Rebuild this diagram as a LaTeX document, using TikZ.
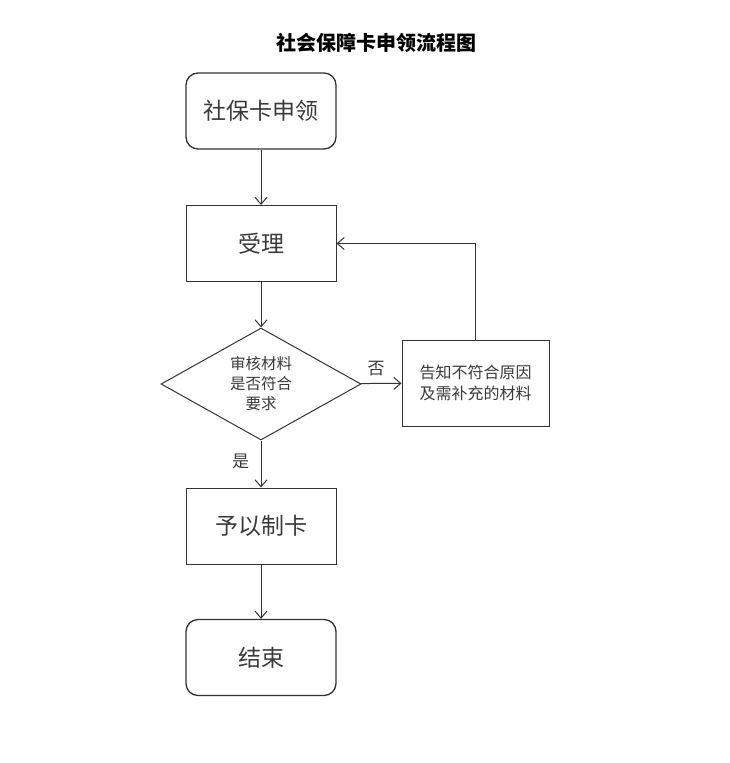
\documentclass[tikz,border=0pt]{standalone}
\usepackage{fontspec}
\newfontfamily\cjk{Noto Sans CJK SC}
\usetikzlibrary{arrows.meta, shapes.geometric}

\definecolor{linegray}{HTML}{333333}
\definecolor{textgray}{HTML}{3A3A3A}

\begin{document}
\begin{tikzpicture}[x=1pt, y=-1pt,
    every node/.style={font=\cjk, text=textgray},
    terminal/.style={draw=linegray, line width=1.3pt, rounded corners=12pt, minimum width=150pt, minimum height=76pt, font=\cjk\fontsize{23}{26}\selectfont},
    process/.style={draw=linegray, line width=1pt, minimum width=150pt, minimum height=76pt, font=\cjk\fontsize{23}{26}\selectfont},
    decision/.style={draw=linegray, line width=1pt, diamond, aspect=1.786, minimum width=200pt, minimum height=112pt, inner sep=0pt, align=center, font=\cjk\fontsize{15.5}{20}\selectfont},
    note/.style={draw=linegray, line width=1pt, minimum width=147pt, minimum height=86pt, align=center, font=\cjk\fontsize{16}{21}\selectfont},
    link/.style={draw=linegray, line width=1pt, -{Straight Barb[length=7pt, width=12pt]}}
]
    % Fix the page size to the reference
    \useasboundingbox (0,0) rectangle (730,763);

    % Title
    \node[font=\cjk\bfseries\fontsize{20}{22}\selectfont, text=black] (title) at (376,43) {社会保障卡申领流程图};

    % Main column of steps
    \node[terminal] (apply) at (261,111) {社保卡申领};
    \node[process] (accept) at (261,243.5) {受理};
    \node[decision] (check) at (261,384) {审核材料\\是否符合\\要求};
    \node[note] (notice) at (475.5,383) {告知不符合原因\\及需补充的材料};
    \node[process] (make) at (261,526) {予以制卡};
    \node[terminal] (finish) at (261,657.5) {结束};

    % Connectors
    \draw[link] (apply) -- (accept);
    \draw[link] (accept) -- (check);
    \draw[link] (check) -- (notice) node[pos=0.38, above=4pt, font=\cjk\fontsize{17}{20}\selectfont] (no) {否};
    \draw[link] (notice.north) |- (accept.east);
    \draw[link] (check) -- (make) node[pos=0.45, left=8pt, font=\cjk\fontsize{17}{20}\selectfont] (yes) {是};
    \draw[link] (make) -- (finish);

\end{tikzpicture}
\end{document}
